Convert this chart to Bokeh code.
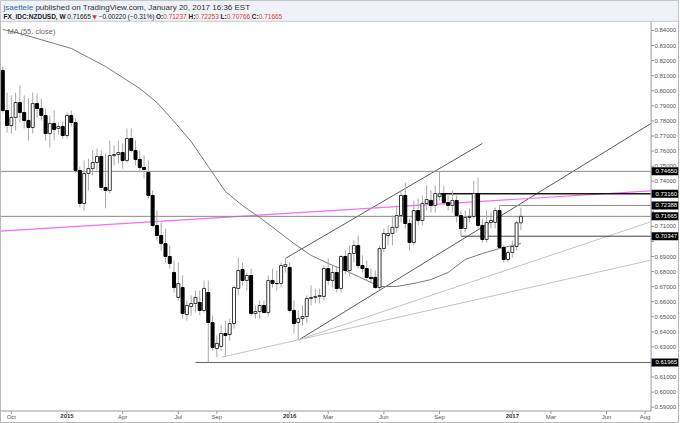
import datetime as dt
from bokeh.plotting import figure
from bokeh.models import (Range1d, FixedTicker, NumeralTickFormatter, ColumnDataSource,
                          LinearAxis, DatetimeAxis, AllLabels)
from bokeh.embed import file_html
from bokeh.resources import INLINE
from bokeh.core.properties import value

# ---------------- data ----------------
FIRST_WEEK = "2014-09-22"   # weekly bars, one per week from here

opens = [.8135, .7869, .7769, .7823, .7922, .7856, .7803, .7756, .7915, .7882,
         .7836, .7716, .7783, .7750, .7763, .7703, .7836, .7789, .7471, .7252,
         .7451, .7484, .7524, .7564, .7358, .7338, .7570, .7577, .7590, .7537,
         .7683, .7604, .7544, .7491, .7458, .7305, .7106, .7039, .6986, .6900,
         .6794, .6628, .6694, .6515, .6568, .6588, .6595, .6542, .6661, .6462,
         .6289, .6303, .6389, .6382, .6455, .6688, .6814, .6741, .6774, .6522,
         .6535, .6575, .6528, .6741, .6721, .6721, .6834, .6827, .6542, .6462,
         .6488, .6502, .6621, .6628, .6635, .6635, .6820, .6741, .6794, .6688,
         .6900, .6807, .6920, .6973, .6840, .6820, .6761, .6761, .6694, .6953,
         .7039, .7053, .7093, .7172, .7305, .7119, .6993, .7205, .7139, .7252,
         .7272, .7239, .7298, .7316, .7258, .7239, .7272, .7172, .7086, .7159,
         .7166, .7318, .7106, .7013, .7126, .7126, .7205, .6960, .6880, .6927,
         .6966, .71237]
highs = [.8161, .7988, .7969, .7988, .8035, .7969, .7949, .7988, .7982, .7949,
         .7882, .7836, .7869, .7789, .7796, .7856, .7869, .7816, .7497, .7537,
         .7550, .7604, .7617, .7604, .7584, .7670, .7637, .7670, .7650, .7750,
         .7750, .7670, .7604, .7570, .7537, .7338, .7205, .7126, .7086, .6973,
         .6873, .6860, .6774, .6608, .6641, .6674, .6674, .6741, .6741, .6508,
         .6376, .6442, .6475, .6488, .6708, .6893, .6860, .6794, .6820, .6575,
         .6608, .6608, .6774, .6820, .6807, .6860, .6887, .6860, .6608, .6542,
         .6575, .6641, .6708, .6688, .6688, .6840, .6887, .6840, .6834, .6907,
         .6940, .6973, .7006, .7039, .6907, .6873, .6820, .6807, .6973, .7086,
         .7106, .7172, .7239, .7338, .7391, .7152, .7272, .7285, .7305, .7371,
         .7338, .7371, .74650, .7371, .7305, .7338, .7305, .7205, .7205, .7219,
         .7404, .7424, .7152, .7205, .7192, .7225, .72388, .6973, .6940, .7006,
         .7139, .72253]
lows = [.7856, .7723, .7716, .7736, .7789, .7750, .7670, .7716, .7823, .7803,
        .7670, .7623, .7670, .7710, .7683, .7683, .7763, .7458, .7225, .7205,
        .7338, .7438, .7471, .7338, .7219, .7318, .7504, .7517, .7484, .7524,
        .7590, .7504, .7458, .7418, .7285, .7093, .7006, .6940, .6860, .6820,
        .6661, .6608, .6488, .6475, .6508, .6528, .6508, .6528, .61965, .6276,
        .6230, .6276, .6243, .6342, .6422, .6641, .6708, .6674, .6508, .6488,
        .6488, .6522, .6502, .6694, .6674, .6694, .6794, .6528, .6389, .6349,
        .6442, .6462, .6575, .6588, .6588, .6608, .6708, .6694, .6661, .6661,
        .6781, .6767, .6860, .6820, .6794, .6741, .6727, .6688, .6681, .6927,
        .6973, .6973, .7059, .7126, .7086, .6940, .6973, .7106, .7106, .7205,
        .7192, .7192, .7272, .7239, .7205, .7192, .7126, .70347, .7059, .7126,
        .7152, .7086, .6993, .6993, .7086, .7086, .6953, .6860, .6862, .6893,
        .6940, .70766]
closes = [.7869, .7769, .7823, .7922, .7856, .7803, .7756, .7915, .7882, .7836,
          .7716, .7783, .7743, .7763, .7703, .7836, .7789, .7471, .7252, .7451,
          .7484, .7524, .7564, .7358, .7338, .7570, .7577, .7590, .7537, .7683,
          .7604, .7544, .7491, .7477, .7305, .7106, .7039, .6986, .6900, .6854,
          .6694, .6721, .6522, .6575, .6588, .6628, .6542, .6688, .6462, .6296,
          .6323, .6389, .6376, .6455, .6694, .6807, .6741, .6774, .6522, .6535,
          .6575, .6528, .6741, .6721, .6720, .6840, .6846, .6542, .6455, .6488,
          .6502, .6621, .6628, .6635, .6641, .6820, .6741, .6794, .6688, .6900,
          .6807, .6920, .6973, .6840, .6820, .6761, .6754, .6694, .6953, .7053,
          .7053, .7093, .7172, .7305, .7119, .6993, .7205, .7139, .7252, .7278,
          .7239, .7318, .73160, .7258, .7239, .7272, .7172, .7086, .7159, .7166,
          .7318, .7106, .7013, .7126, .7139, .7205, .6960, .6880, .6927, .6966,
          .71237, .71665]

ma_dates = ["2014-09-22", "2014-10-20", "2014-11-17", "2014-12-15", "2015-01-12",
            "2015-02-09", "2015-03-09", "2015-04-06", "2015-05-04", "2015-06-01",
            "2015-06-29", "2015-07-27", "2015-08-24", "2015-09-21", "2015-10-19",
            "2015-11-16", "2015-12-14", "2016-01-11", "2016-02-08", "2016-03-07",
            "2016-04-04", "2016-05-02", "2016-05-30", "2016-06-27", "2016-07-25",
            "2016-08-22", "2016-09-19", "2016-10-17", "2016-11-14", "2016-12-12",
            "2017-01-16"]
ma_values = [.8407, .8380, .8347, .8314, .8281, .8221, .8161, .8088, .8015, .7922,
             .7796, .7663, .7497, .7331, .7238, .7159, .7073, .6986, .6907, .6854,
             .6807, .6754, .6701, .6701, .6721, .6747, .6794, .6880, .6920, .6953,
             .6986]

level_prices = [0.74650, 0.73160, 0.72388, 0.71665, 0.70347, 0.61965]
level_starts = ["2014-09-18", "2016-09-05", "2016-12-12", "2014-09-18", "2016-10-10", "2015-08-03"]

trend_start_dates = ["2015-12-28", "2016-01-20", "2015-09-15", "2016-01-20"]
trend_start_prices = [0.6887, 0.6349, 0.6232, 0.6349]
trend_end_dates = ["2016-11-14", "2017-08-16", "2017-08-16", "2017-08-16"]
trend_end_prices = [0.7650, 0.7781, 0.6875, 0.7130]

pink_dates = ["2014-09-18", "2017-08-16"]
pink_prices = [0.7069, 0.7335]

price_ticks = [0.59, 0.60, 0.61, 0.62, 0.63, 0.64, 0.65, 0.66, 0.67, 0.68, 0.69, 0.70, 0.71,
               0.72, 0.73, 0.74, 0.75, 0.76, 0.77, 0.78, 0.79, 0.80, 0.81, 0.82, 0.83, 0.84]
hidden_price_ticks = [0.62, 0.70, 0.72, 0.73]   # covered by the boxed level labels
month_tick_dates = ["2014-10-06", "2015-04-06", "2015-07-06", "2015-09-07",
                    "2016-03-07", "2016-06-06", "2016-09-05",
                    "2017-03-06", "2017-06-05", "2017-08-07"]
month_tick_labels = ["Oct", "Apr", "Jul", "Sep", "Mar", "Jun", "Sep", "Mar", "Jun", "Aug"]
year_tick_dates = ["2015-01-05", "2016-01-04", "2017-01-02"]
year_tick_labels = ["2015", "2016", "2017"]

# ---------------- helpers ----------------
EPOCH = dt.datetime(1970, 1, 1)


def to_ms(d):
    if isinstance(d, str):
        d = dt.datetime.strptime(d, "%Y-%m-%d")
    return (d - EPOCH).total_seconds() * 1000.0


first = dt.datetime.strptime(FIRST_WEEK, "%Y-%m-%d")
week_ms = [to_ms(first + dt.timedelta(days=7 * i)) for i in range(len(opens))]

W, H = 680, 423
CHART_W = 652                      # price axis column starts here
X_START = to_ms(dt.datetime(2014, 9, 18, 7))
MS_PER_PX = 1062.75 * 86400000.0 / CHART_W
X_CHART_END = X_START + CHART_W * MS_PER_PX
X_FULL_END = X_START + W * MS_PER_PX
PRICE_PER_PX = 0.00066371
Y_TOP = 0.85991
Y_FULL_BOT = Y_TOP - H * PRICE_PER_PX


def px(xp):
    return X_START + xp * MS_PER_PX


def py(yp):
    return Y_TOP - yp * PRICE_PER_PX


FONT = value("Liberation Sans")

p = figure(width=W, height=H, x_axis_type="datetime", y_axis_location="right",
           x_range=Range1d(X_START, X_FULL_END), y_range=Range1d(Y_FULL_BOT, Y_TOP),
           output_backend="svg", toolbar_location=None,
           min_border_left=0, min_border_top=0, min_border_right=0, min_border_bottom=0)
p.xgrid.visible = False
p.ygrid.visible = False
p.outline_line_color = "#b8b8b8"
p.background_fill_color = "white"
p.border_fill_color = "white"

# header band + separator
p.quad(left=[X_START], right=[X_FULL_END], bottom=[py(20.5)], top=[Y_TOP],
       fill_color="#eff2f6", line_color=None)
p.segment(x0=[X_START], x1=[X_FULL_END], y0=[py(20.8)], y1=[py(20.8)],
          line_color="#c5cad1", line_width=1)

# price-axis separator, time-axis line and their tick marks
p.segment(x0=[px(652.5)], x1=[px(652.5)], y0=[py(21)], y1=[py(410.5)], line_color="#9a9a9a")
p.segment(x0=[X_START], x1=[px(652.5)], y0=[py(410.5)], y1=[py(410.5)], line_color="#9a9a9a")
p.segment(x0=[px(652.5)] * len(price_ticks), x1=[px(655.5)] * len(price_ticks),
          y0=price_ticks, y1=price_ticks, line_color="#9a9a9a")
all_tick_ms = [to_ms(d) for d in month_tick_dates + year_tick_dates]
p.segment(x0=all_tick_ms, x1=all_tick_ms, y0=[py(410.5)] * len(all_tick_ms),
          y1=[py(413.5)] * len(all_tick_ms), line_color="#9a9a9a")

# trend lines
p.segment(x0=[to_ms(d) for d in trend_start_dates], y0=trend_start_prices,
          x1=[to_ms(d) for d in trend_end_dates], y1=trend_end_prices,
          line_color=["#5a5a5a", "#5a5a5a", "#c4c4c4", "#c4c4c4"], line_width=1)
p.line(x=[to_ms(d) for d in pink_dates], y=pink_prices, line_color="#f36ef3", line_width=1.2)

# horizontal levels
p.segment(x0=[to_ms(d) for d in level_starts], y0=level_prices,
          x1=[X_CHART_END] * len(level_prices), y1=level_prices,
          line_color=["#8a8a8a", "#1a1a1a", "#8a8a8a", "#8a8a8a", "#444444", "#666666"],
          line_width=[1, 1.4, 1, 1, 1, 1])
# black boxes behind the level values on the price axis
p.quad(left=[px(653)] * len(level_prices), right=[px(680)] * len(level_prices),
       top=[v + 4 * PRICE_PER_PX for v in level_prices],
       bottom=[v - 4 * PRICE_PER_PX for v in level_prices],
       fill_color="black", line_color=None)

# moving average
p.line(x=[to_ms(d) for d in ma_dates], y=ma_values, line_color="#7a7a7a", line_width=1)

# candles
bw = 3 * MS_PER_PX
p.segment(x0=week_ms, x1=week_ms, y0=highs, y1=lows, line_color="#a8a8a8", line_width=1)
up = ColumnDataSource(dict(
    x=[x for x, o, c in zip(week_ms, opens, closes) if c >= o],
    top=[c for o, c in zip(opens, closes) if c >= o],
    bottom=[o for o, c in zip(opens, closes) if c >= o]))
dn = ColumnDataSource(dict(
    x=[x for x, o, c in zip(week_ms, opens, closes) if c < o],
    top=[o for o, c in zip(opens, closes) if c < o],
    bottom=[c for o, c in zip(opens, closes) if c < o]))
p.vbar(x="x", top="top", bottom="bottom", width=bw, source=up,
       fill_color="white", line_color="#3a3a3a", line_width=1)
p.vbar(x="x", top="top", bottom="bottom", width=bw, source=dn,
       fill_color="black", line_color="black", line_width=1)

# header texts
p.text(x=[px(3)], y=[py(6.5)], text=["jsaettele"], text_font=FONT, text_font_size="8px",
       text_color="#2d6cb4", text_baseline="middle")
p.text(x=[px(35)], y=[py(6.5)], text=["published on TradingView.com, January 20, 2017 16:36 EST"],
       text_font=FONT, text_font_size="8px", text_color="#333333", text_baseline="middle")
HY = py(15.8)
hdr_bold = [("FX_IDC:NZDUSD, W", 3), ("O:", 156), ("H:", 188.5), ("L:", 220.7), ("C:", 252.1)]
p.text(x=[px(v[1]) for v in hdr_bold], y=[HY] * len(hdr_bold), text=[v[0] for v in hdr_bold],
       text_font=FONT, text_font_size="6.5px", text_font_style="bold", text_color="#222222",
       text_baseline="middle")
hdr_plain = [("0.71665", 67), ("\u22120.00220 (\u22120.31%)", 98.5)]
p.text(x=[px(v[1]) for v in hdr_plain], y=[HY] * len(hdr_plain), text=[v[0] for v in hdr_plain],
       text_font=FONT, text_font_size="6.5px", text_color="#222222", text_baseline="middle")
hdr_red = [("0.71237", 163.2), ("0.72253", 195.4), ("0.70766", 226.8), ("0.71665", 259)]
p.text(x=[px(v[1]) for v in hdr_red], y=[HY] * len(hdr_red), text=[v[0] for v in hdr_red],
       text_font=FONT, text_font_size="6.5px", text_color="#d8403a", text_baseline="middle")
p.text(x=[px(92)], y=[HY], text=["\u25bc"], text_font=value("DejaVu Sans"),
       text_font_size="6px", text_color="#d8403a", text_baseline="middle")
p.text(x=[px(7)], y=[py(31)], text=["MA (55, close)"], text_font=FONT, text_font_size="7.5px",
       text_color="#6a6a6a", text_baseline="middle")


def style_axis(ax, color, standoff, bold=False):
    ax.major_label_text_font = "Liberation Sans"
    ax.major_label_text_font_size = "6px"
    ax.major_label_text_color = color
    ax.major_label_text_font_style = "bold" if bold else "normal"
    ax.major_label_policy = AllLabels()
    ax.major_tick_out = 0
    ax.major_tick_in = 0
    ax.minor_tick_out = 0
    ax.minor_tick_in = 0
    ax.major_label_standoff = standoff
    ax.axis_line_color = None


# price axis (labels drawn into the price column)
ya = p.yaxis[0]
ya.ticker = FixedTicker(ticks=[t for t in price_ticks if t not in hidden_price_ticks])
ya.formatter = NumeralTickFormatter(format="0.00000")
ya.bounds = (Y_FULL_BOT, Y_TOP)
style_axis(ya, "#555555", -24)

ya2 = LinearAxis(ticker=FixedTicker(ticks=level_prices),
                 formatter=NumeralTickFormatter(format="0.00000"))
style_axis(ya2, "white", -24)
p.add_layout(ya2, "right")

# time axis: months (normal) and years (bold)
xa = p.xaxis[0]
m_ms = [int(to_ms(d)) for d in month_tick_dates]
xa.ticker = FixedTicker(ticks=m_ms)
xa.major_label_overrides = {t: lab for t, lab in zip(m_ms, month_tick_labels)}
style_axis(xa, "#555555", -10)

y_ms = [int(to_ms(d)) for d in year_tick_dates]
xa2 = DatetimeAxis(ticker=FixedTicker(ticks=y_ms))
xa2.major_label_overrides = {t: lab for t, lab in zip(y_ms, year_tick_labels)}
style_axis(xa2, "#333333", -10, bold=True)
p.add_layout(xa2, "below")

open("out.html", "w").write(file_html(p, INLINE))
